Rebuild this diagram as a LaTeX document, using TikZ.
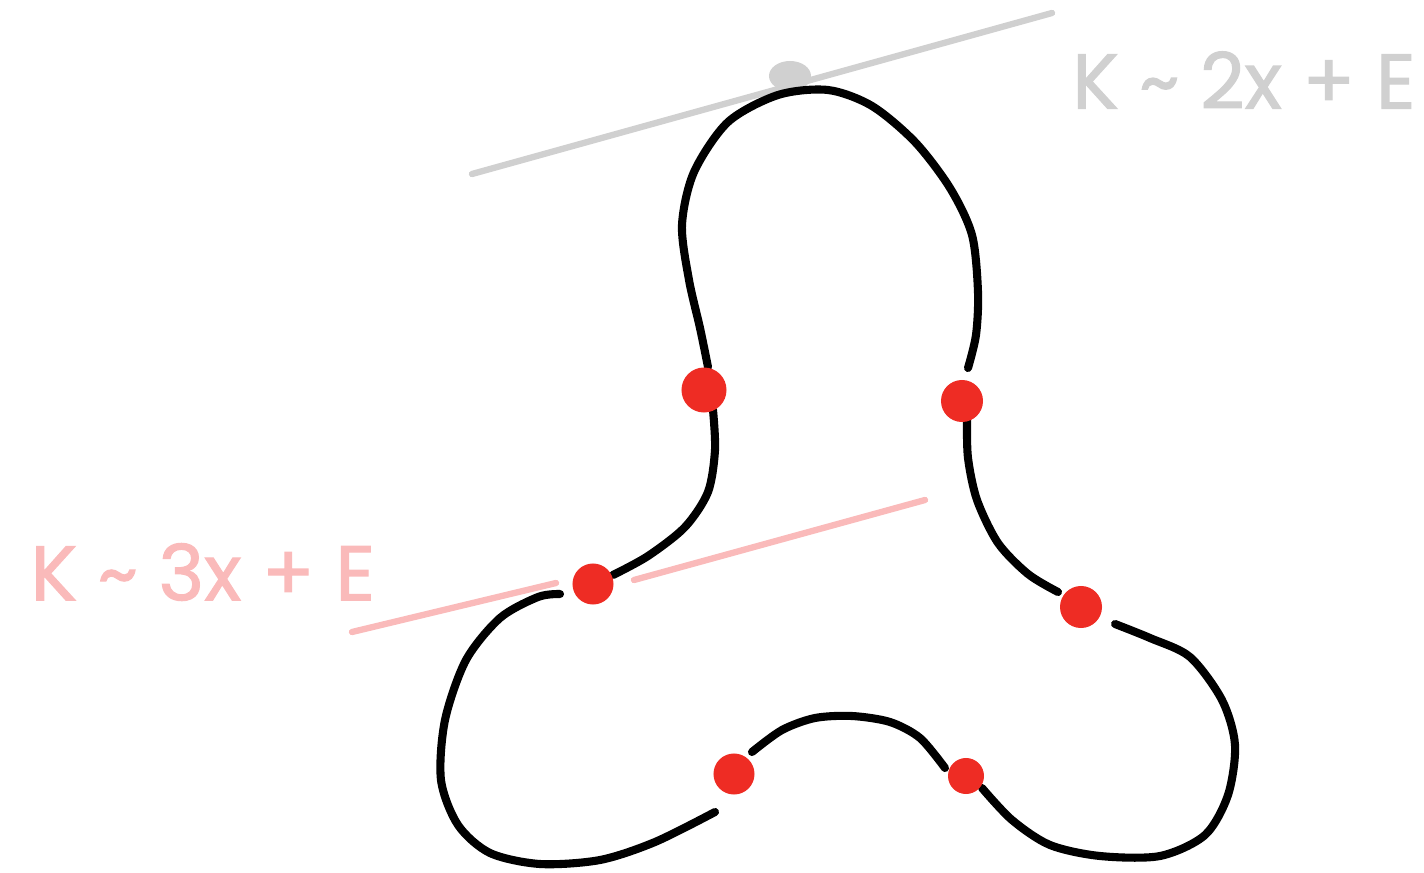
\documentclass[tikz,border=0pt]{standalone}
\usepackage{fontspec}
\usepackage{tikz}
\usetikzlibrary{positioning, shapes.geometric}
\newfontfamily\handfont[FakeBold=1.5]{Poppins}
\definecolor{dotred}{RGB}{238,44,36}
\definecolor{linegray}{RGB}{208,208,208}
\definecolor{linepink}{RGB}{250,186,186}
\tikzset{
	graytext/.style={font=\fontsize{22}{22}\selectfont\handfont\color{linegray}}
}
\tikzset{
	pinktext/.style={font=\fontsize{22}{22}\selectfont\handfont\color{linepink}}
}

\begin{document}
\begin{tikzpicture}[x=0.01cm,y=-0.01cm]

\tikzset{
    reddot/.style={
        shape=circle,
        fill=dotred,
        minimum size=4.2mm,
        inner sep=0pt
    },
    curve/.style={line width=2.3pt, line cap=round, line join=round},
    tangent/.style={line width=1.8pt, line cap=round}
}

\useasboundingbox (0,0) rectangle (1424,873);

% tangent lines
\coordinate (g1) at (472,174);
\coordinate (g2) at (1052,13);
\coordinate (p1) at (352,632);
\coordinate (p2) at (556,583);
\coordinate (p3) at (634,580);
\coordinate (p4) at (925,500);
\draw[tangent, linegray] (g1) -- (g2);
\draw[tangent, linepink] (p1) -- (p2);
\draw[tangent, linepink] (p3) -- (p4);
\node[shape=ellipse, fill=linegray, minimum width=4.2mm, minimum height=3mm, inner sep=0pt] (t) at (790,76) {};

\node[graytext] (k2) at (1244,80) {K \textasciitilde{} 2x + E};
\node[pinktext] (k3) at (203,572) {K \textasciitilde{} 3x + E};

% the curve
\draw[curve] plot[smooth] coordinates {(708,367) (700,328) (689,280) (682,225) (694,172)
  (728,122) (778,95) (828,90) (872,106) (915,142) (950,188) (972,235) (978,292) (976,335) (968,368)};
\draw[curve] plot[smooth] coordinates {(713,410) (715,450) (708,492) (685,527) (648,556) (613,575)};
\draw[curve] plot[smooth] coordinates {(967,420) (968,458) (977,500) (998,543) (1028,574) (1058,592)};
\draw[curve] plot[smooth] coordinates {(560,594) (538,597) (500,618) (466,660) (445,720) (441,780)
  (458,825) (490,853) (540,864) (600,860) (655,842) (715,812)};
\draw[curve] plot[smooth] coordinates {(752,752) (782,730) (815,718) (852,716) (890,722) (920,738) (945,768)};
\draw[curve] plot[smooth] coordinates {(982,788) (1012,820) (1050,845) (1100,856) (1160,856) (1205,835)
  (1228,795) (1235,745) (1222,700) (1190,657) (1150,638) (1115,624)};

% crossing points
\node[reddot, minimum size=4.5mm] (d1) at (704,390) {};
\node[reddot] (d2) at (962,401) {};
\node[reddot, minimum size=4.1mm] (d3) at (593,584) {};
\node[reddot, minimum size=4.2mm] (d4) at (1081,607) {};
\node[reddot, minimum size=4.1mm] (d5) at (734,774) {};
\node[reddot, minimum size=3.6mm] (d6) at (966,776) {};
\end{tikzpicture}
\end{document}
